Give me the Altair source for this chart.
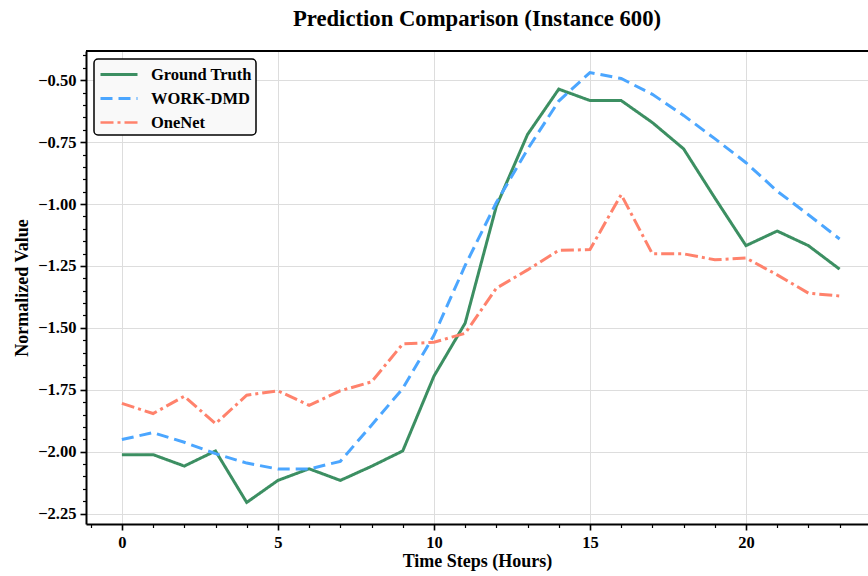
import altair as alt
import pandas as pd

steps = list(range(24))
ground_truth = [-2.012, -2.012, -2.058, -1.997, -2.205, -2.116, -2.069, -2.116, -2.059, -1.997,
                -1.695, -1.481, -1.009, -0.719, -0.536, -0.582, -0.582, -0.671, -0.777, -0.975,
                -1.168, -1.109, -1.168, -1.263]
work_dmd = [-1.951, -1.923, -1.962, -2.008, -2.046, -2.070, -2.070, -2.039, -1.893, -1.745,
            -1.530, -1.248, -0.994, -0.779, -0.584, -0.469, -0.493, -0.557, -0.642, -0.736,
            -0.833, -0.948, -1.043, -1.141]
onenet = [-1.805, -1.846, -1.776, -1.887, -1.772, -1.754, -1.813, -1.754, -1.718, -1.565,
          -1.558, -1.522, -1.340, -1.266, -1.187, -1.184, -0.962, -1.201, -1.201, -1.225,
          -1.218, -1.286, -1.360, -1.371]

series_names = ["Ground Truth", "WORK-DMD", "OneNet"]
series_colors = ["#3C8F62", "#4BA6FF", "#FF826C"]
series_dash = [[1, 0], [12, 6], [13, 4, 3, 4]]

rows = []
for name, vals in zip(series_names, [ground_truth, work_dmd, onenet]):
    for t, v in zip(steps, vals):
        rows.append({"t": t, "v": v, "series": name})
df = pd.DataFrame(rows)

x_ticks = list(range(-1, 24))
y_ticks = [round(-2.25 + 0.05 * i, 2) for i in range(38)]

FONT = "Liberation Serif"

x_axis = alt.Axis(
    values=x_ticks,
    labelExpr="datum.value % 5 === 0 ? format(datum.value, 'd') : ''",
    tickSize={"condition": {"test": "datum.value % 5 === 0", "value": 6}, "value": 3.5},
    tickWidth={"condition": {"test": "datum.value % 5 === 0", "value": 1.6}, "value": 1.2},
    gridOpacity={"condition": {"test": "datum.value % 5 === 0", "value": 1}, "value": 0},
    title="Time Steps (Hours)",
)
y_test = "abs(datum.value * 4 - round(datum.value * 4)) < 0.001"
y_axis = alt.Axis(
    values=y_ticks,
    labelExpr=f"{y_test} ? format(datum.value, '.2f') : ''",
    tickSize={"condition": {"test": y_test, "value": 6}, "value": 3.5},
    tickWidth={"condition": {"test": y_test, "value": 1.6}, "value": 1.2},
    gridOpacity={"condition": {"test": y_test, "value": 1}, "value": 0},
    title="Normalized Value",
)

lines = alt.Chart(df).mark_line(strokeWidth=3).encode(
    x=alt.X("t:Q", scale=alt.Scale(domain=[-1.15, 23.91], nice=False, zero=False), axis=x_axis),
    y=alt.Y("v:Q", scale=alt.Scale(domain=[-2.292, -0.382], nice=False, zero=False), axis=y_axis),
    color=alt.Color("series:N", scale=alt.Scale(domain=series_names, range=series_colors),
                    sort=series_names, legend=alt.Legend(title=None)),
    strokeDash=alt.StrokeDash("series:N", scale=alt.Scale(domain=series_names, range=series_dash),
                              sort=series_names, legend=alt.Legend(title=None)),
    strokeWidth=alt.StrokeWidth("series:N", scale=alt.Scale(domain=series_names, range=[3, 2.6, 2.6]),
                                legend=None),
)

top_border = alt.Chart(df).mark_rule(color="black", strokeWidth=2).encode(
    x=alt.value(0), x2=alt.value(790), y=alt.value(0)
)

chart = alt.layer(lines, top_border).properties(
    width=782,
    height=473,
    title=alt.TitleParams(
        "Prediction Comparison (Instance 600)",
        font=FONT, fontSize=22.7, fontWeight="bold", color="black", offset=19, anchor="middle",
    ),
    padding={"left": 86, "top": 51, "right": 0, "bottom": 52},
    autosize=alt.AutoSizeParams(type="none"),
).configure_view(
    stroke=None
).configure_axis(
    labelFont=FONT, labelFontSize=16.5, labelFontWeight="bold", labelColor="black",
    titleFont=FONT, titleFontSize=18, titleFontWeight="bold", titleColor="black",
    domainColor="black", domainWidth=2, tickColor="black",
    gridColor="#dddddd", gridWidth=1, labelPadding=4,
).configure_axisX(
    titlePadding=2, labelFlush=False,
).configure_axisY(
    titlePadding=6,
).configure_legend(
    orient="none", legendX=8, legendY=8,
    labelFont=FONT, labelFontSize=16.5, labelFontWeight="bold", labelColor="black",
    symbolType="M-1.85,0H1.85", symbolSize=400, symbolStrokeWidth=3,
    symbolOffset=9.5, labelOffset=20.5,
    fillColor="#f9f9f9", strokeColor="black", strokeWidth=1.5, cornerRadius=4, padding=4,
    rowPadding=4,
).configure_title(font=FONT)

chart.save("out.html", embed_options={"renderer": "svg", "actions": False})
